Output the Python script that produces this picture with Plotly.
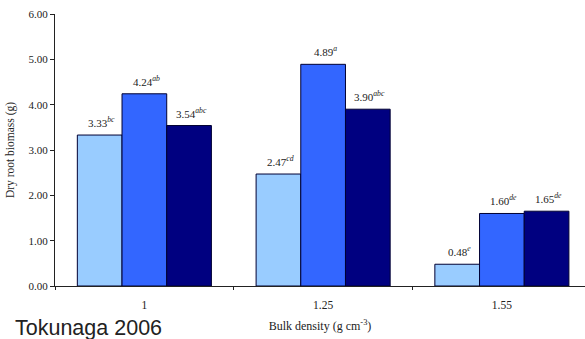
import plotly.graph_objects as go

# Dry root biomass by bulk density, three treatments per density level
categories = ["1", "1.25", "1.55"]
series_a = [3.33, 2.47, 0.48]
series_b = [4.24, 4.89, 1.60]
series_c = [3.54, 3.90, 1.65]
letters_a = ["bc", "cd", "e"]
letters_b = ["ab", "a", "de"]
letters_c = ["abc", "abc", "de"]

colors = ["#99CCFF", "#3366FF", "#000080"]
serif = "Liberation Serif, Times New Roman, serif"

W, H = 585, 339
L, R, T, B = 55, 0, 14, 53
x_range = [-0.5, 2.465]
bargap = 0.25
plot_w = W - L - R
unit_px = plot_w / (x_range[1] - x_range[0])
bar_px = unit_px * (1 - bargap) / 3

fig = go.Figure()
for vals, col in zip([series_a, series_b, series_c], colors):
    fig.add_trace(go.Bar(
        x=categories, y=vals,
        marker=dict(color=col, line=dict(color="#000033", width=1)),
        showlegend=False, hoverinfo="x+y",
    ))

# value labels with significance letters above each bar
for i, (vals, lets) in enumerate(zip([series_a, series_b, series_c],
                                     [letters_a, letters_b, letters_c])):
    for j, (v, l) in enumerate(zip(vals, lets)):
        fig.add_annotation(
            x=j, y=v, xref="x", yref="y",
            text=f"{v:.2f}<sup><i>{l}</i></sup>",
            showarrow=False, xanchor="center", yanchor="bottom",
            xshift=(i - 1) * bar_px + 2, yshift=4,
            font=dict(family=serif, size=11, color="#222222"),
        )

fig.update_layout(
    width=W, height=H,
    margin=dict(l=L, r=R, t=T, b=B),
    paper_bgcolor="white", plot_bgcolor="white",
    barmode="group", bargap=bargap, bargroupgap=0,
    font=dict(family=serif, size=11, color="#222222"),
    xaxis=dict(
        type="category", range=x_range,
        showline=True, linecolor="#222222", linewidth=1,
        ticks="outside", tickson="boundaries", ticklen=3, tickcolor="#222222",
        showgrid=False, ticklabelstandoff=8,
        title=dict(text="Bulk density (g cm<sup>-3</sup>)", font=dict(size=12), standoff=11),
        tickfont=dict(size=11.5),
    ),
    yaxis=dict(
        range=[0, 6], dtick=1, tickformat=".2f",
        showline=True, linecolor="#222222", linewidth=1,
        ticks="outside", ticklen=4, tickcolor="#222222",
        showgrid=False, zeroline=False,
        title=dict(text="Dry root biomass (g)", font=dict(size=11.5), standoff=11),
        tickfont=dict(size=11),
    ),
)

fig.add_annotation(
    text="Tokunaga 2006", xref="paper", yref="paper",
    x=-L / plot_w, y=-B / (H - T - B), xanchor="left", yanchor="bottom",
    xshift=13, yshift=-3,
    showarrow=False,
    font=dict(family="Liberation Sans, Arial, sans-serif", size=21.5, color="#222222"),
)

fig.write_html("out.html")
